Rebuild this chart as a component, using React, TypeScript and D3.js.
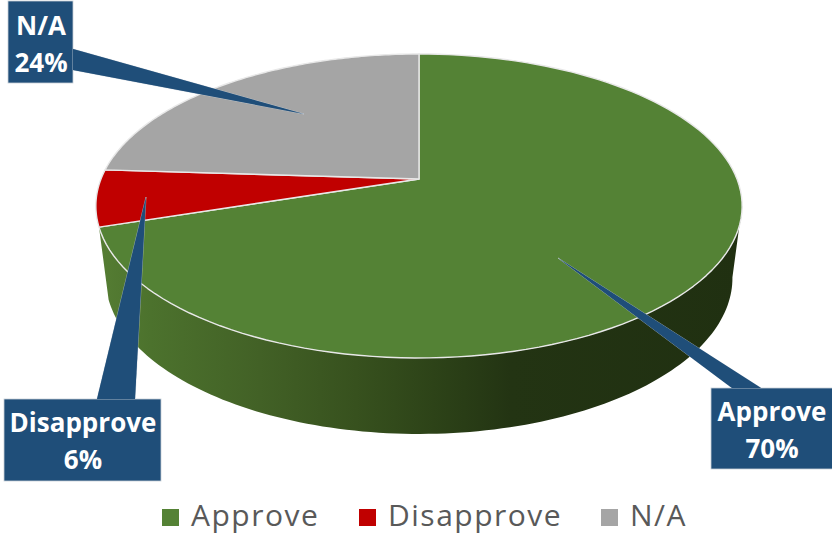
import React from "react";
import * as d3 from "d3";

const categories = ["Approve", "Disapprove", "N/A"];
const values = [70, 6, 24];
const colors = ["#548235", "#c00000", "#a5a5a5"];

// Layout of the data callouts (box and pointer), in page pixels
const callouts = [
  { box: [711, 388, 125, 81], base: [[732, 388], [761, 388]], tip: [558, 258], textX: 772, y1: 421, y2: 458 },
  { box: [4, 399, 157, 82], base: [[97, 399], [135, 399]], tip: [146, 197], textX: 83, y1: 432, y2: 469 },
  { box: [8, 1, 65, 82], base: [[73, 49], [73, 70]], tip: [304, 114], textX: 41, y1: 35, y2: 72 },
];
const legendX = [162, 359, 601];

const APEX_X = 419;
const APEX_Y = 179;
const B = 318;
const A = 147.2;
const P = -0.1776;
const ELLIPSE_CY = 206;

const project = (angle: number, r = 1): [number, number] => {
  const u = Math.sin(angle) * r;
  const v = -Math.cos(angle) * r;
  const d = 1 + P * v;
  return [APEX_X + (B * u) / d, APEX_Y + (A * v) / d];
};
const projectBottom = (angle: number): [number, number] => {
  const [x, y] = project(angle);
  return [APEX_X + (x - APEX_X) * 0.97, ELLIPSE_CY + 72 + (y - ELLIPSE_CY) * 1.026];
};

const pie = d3.pie<number>().sort(null);
const arcs = pie(values);
const line = d3.line();

const arcPoints = (a0: number, a1: number, fn: (a: number) => [number, number]) =>
  d3.range(0, 121).map((i) => fn(a0 + ((a1 - a0) * i) / 120));

const deg = Math.PI / 180;
const green = arcs[0];
const wallStart = 100 * deg;
const wallPath =
  line([
    ...arcPoints(wallStart, green.endAngle, (a) => project(a)),
    ...arcPoints(green.endAngle, wallStart, projectBottom),
  ]) + "Z";

const wallStops: [number, string][] = [
  [0, "#557d33"],
  [0.08, "#4c722d"],
  [0.25, "#426126"],
  [0.4, "#37511e"],
  [0.52, "#2d4318"],
  [0.64, "#233413"],
  [1, "#203011"],
];

export default function App() {
  return (
    <svg
      width={832}
      height={535}
      style={{ position: "absolute", left: 0, top: 0, background: "#fff", fontFamily: "'Open Sans', sans-serif" }}
    >
      <defs>
        <linearGradient id="wall" gradientUnits="userSpaceOnUse" x1={99} x2={742} y1={0} y2={0}>
          {wallStops.map(([o, c]) => (
            <stop key={o} offset={o} stopColor={c} />
          ))}
        </linearGradient>
      </defs>
      <path d={wallPath} fill="url(#wall)" />
      {arcs.map((a, i) => (
        <path
          key={categories[i]}
          d={line([[APEX_X, APEX_Y], ...arcPoints(a.startAngle, a.endAngle, (t) => project(t))]) + "Z"}
          fill={colors[i]}
          stroke="#e8e8e8"
          strokeWidth={1.4}
          strokeLinejoin="round"
        />
      ))}
      {callouts.map((c, i) => (
        <g key={categories[i]}>
          <path
            d={line([c.base[0] as [number, number], c.tip as [number, number], c.base[1] as [number, number]]) as string}
            fill="#1f4e79"
            stroke="#c8d0d8"
            strokeWidth={0.6}
          />
          <rect
            x={c.box[0]}
            y={c.box[1]}
            width={c.box[2]}
            height={c.box[3]}
            fill="#1f4e79"
            stroke="#c8d0d8"
            strokeWidth={0.8}
          />
          <path
            d={line([c.base[0] as [number, number], c.tip as [number, number], c.base[1] as [number, number]]) + "Z"}
            fill="#1f4e79"
          />
          <text x={c.textX} y={c.y1} textAnchor="middle" fill="#fff" fontSize={26} fontWeight={700}>
            {categories[i]}
          </text>
          <text x={c.textX} y={c.y2} textAnchor="middle" fill="#fff" fontSize={26} fontWeight={700}>
            {values[i]}%
          </text>
        </g>
      ))}
      {categories.map((name, i) => (
        <g key={name}>
          <rect x={legendX[i]} y={509} width={17} height={17} fill={colors[i]} />
          <text x={legendX[i] + 29} y={526} fontSize={30} letterSpacing={1.5} fill="#595959">
            {name}
          </text>
        </g>
      ))}
    </svg>
  );
}
